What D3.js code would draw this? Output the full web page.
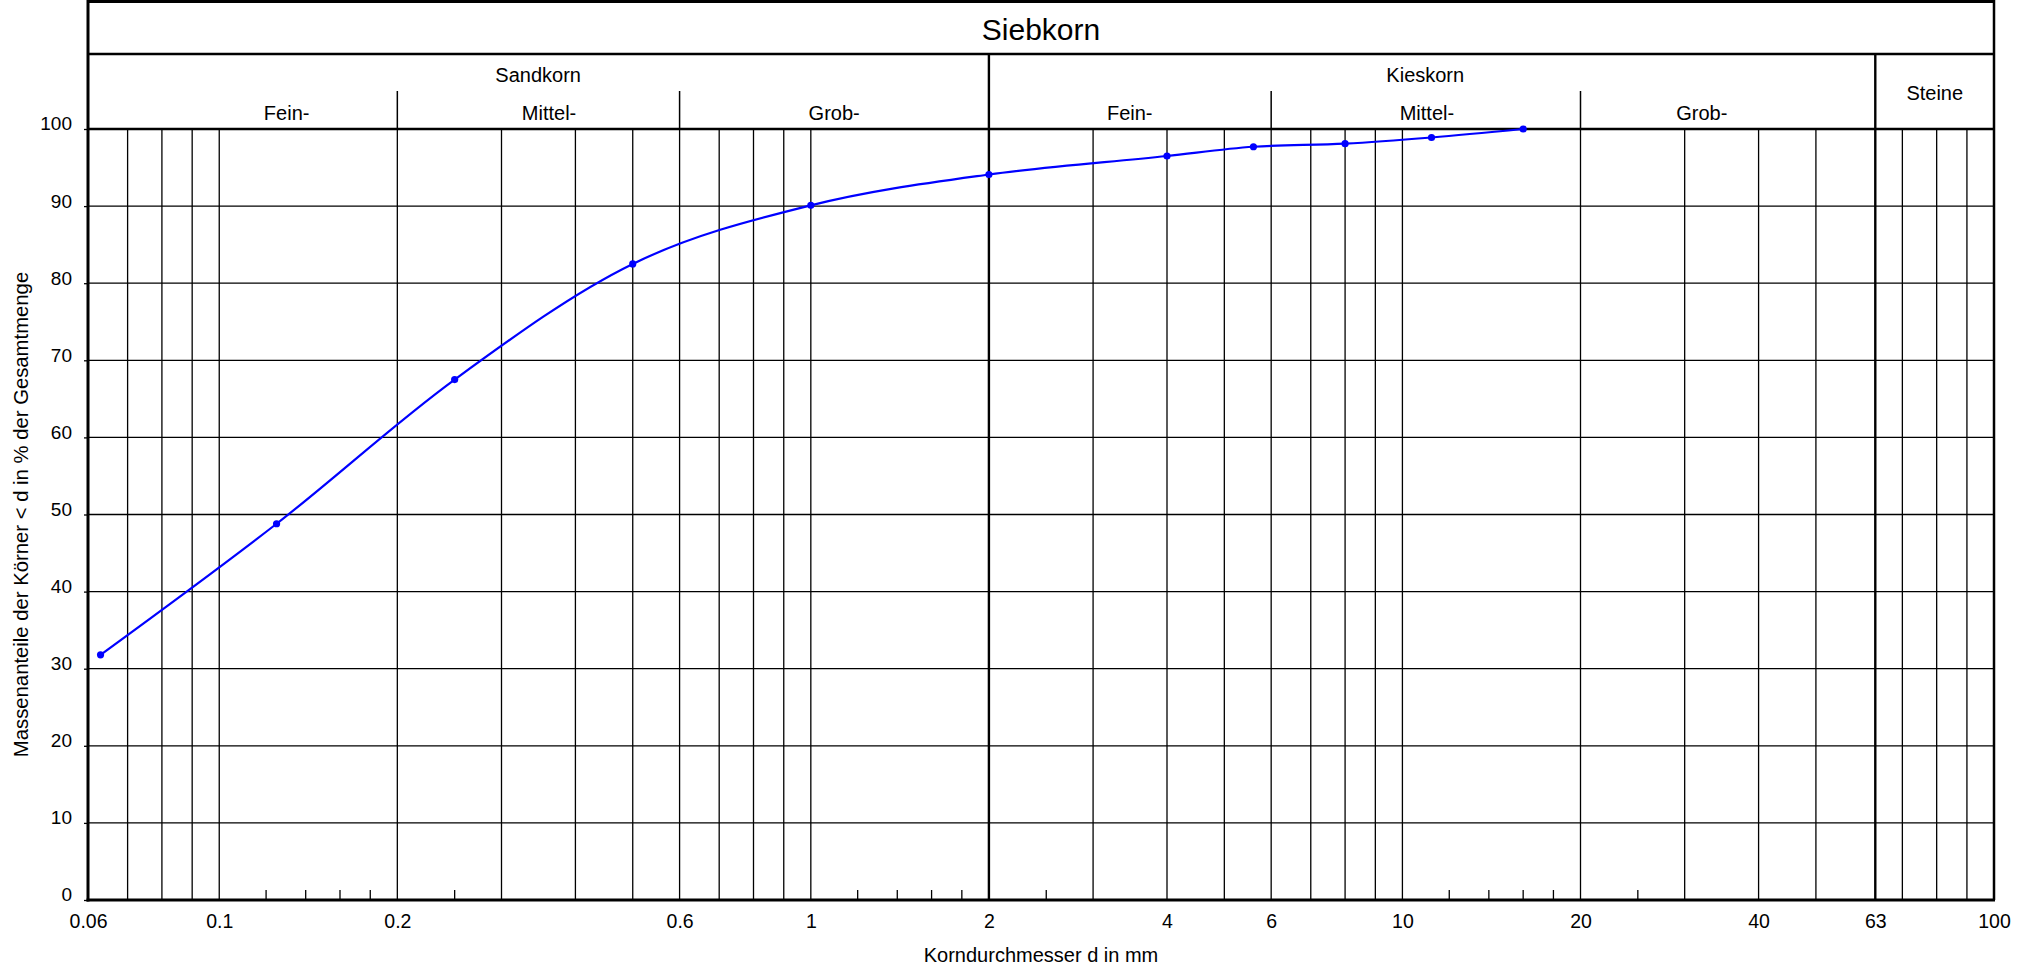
<!DOCTYPE html>
<html>
<head>
<meta charset="utf-8">
<script src="https://cdn.jsdelivr.net/npm/d3@7"></script>
<style>
  html, body { margin: 0; padding: 0; background: #fff; }
  svg { display: block; }
  text { font-family: "Liberation Sans", Arial, sans-serif; fill: #000; }
</style>
</head>
<body>
<svg id="chart" width="2022" height="970"></svg>
<script>
// ---------------- data ----------------
const sieveSizes = [0.063, 0.125, 0.25, 0.5, 1, 2, 4, 5.6, 8, 11.2, 16];
const passingPct = [31.8, 48.8, 67.5, 82.5, 90.1, 94.1, 96.5, 97.7, 98.1, 98.9, 100];

const xTickLabels = [0.06, 0.1, 0.2, 0.6, 1, 2, 4, 6, 10, 20, 40, 63, 100];
const yTicks = [0, 10, 20, 30, 40, 50, 60, 70, 80, 90, 100];

const gridLinesX = [0.07, 0.08, 0.09, 0.1, 0.2, 0.3, 0.4, 0.5, 0.6, 0.7, 0.8, 0.9,
                    1, 2, 3, 4, 5, 6, 7, 8, 9, 10, 20, 30, 40, 50, 63, 70, 80, 90];
const minorTicksX = [0.12, 0.14, 0.16, 0.18, 0.25, 1.2, 1.4, 1.6, 1.8, 2.5,
                     12, 14, 16, 18, 25];

// class boundaries (mm)
const mainBoundaries = [2, 63];
const subBoundaries = [0.2, 0.6, 6, 20];

// class labels: name and anchor value (mm)
const mainClassNames = ["Sandkorn", "Kieskorn"];
const mainClassAt = [0.346, 10.93];
const stonesName = "Steine";
const stonesAt = 79.4;
const subClassNames = ["Fein-", "Mittel-", "Grob-", "Fein-", "Mittel-", "Grob-"];
const subClassAt = [0.130, 0.361, 1.095, 3.46, 11.0, 32.06];

const chartTitle = "Siebkorn";
const xTitle = "Korndurchmesser d in mm";
const yTitle = "Massenanteile der Körner < d in % der Gesamtmenge";

// ---------------- layout ----------------
const L = 88, R = 1994, T = 129, B = 900;
const topY = 1.5, titleBoxY = 54, subTopY = 91;

const svg = d3.select("#chart");
const x = d3.scaleLog().domain([0.06, 100]).range([L, R]);
const y = d3.scaleLinear().domain([0, 100]).range([B, T]);

// horizontal grid
svg.append("g").selectAll("line").data(yTicks.filter(v => v > 0 && v < 100)).join("line")
  .attr("x1", L).attr("x2", R).attr("y1", d => y(d)).attr("y2", d => y(d))
  .attr("stroke", "#000").attr("stroke-width", 1.3);

// vertical grid
svg.append("g").selectAll("line").data(gridLinesX).join("line")
  .attr("x1", d => x(d)).attr("x2", d => x(d)).attr("y1", T).attr("y2", B)
  .attr("stroke", "#000")
  .attr("stroke-width", d => (mainBoundaries.includes(d) ? 2.4 : 1.3));

// sub-class boundaries extend into the header
svg.append("g").selectAll("line").data(subBoundaries).join("line")
  .attr("x1", d => x(d)).attr("x2", d => x(d)).attr("y1", subTopY).attr("y2", T)
  .attr("stroke", "#000").attr("stroke-width", 1.5);

// main class boundaries extend to the title box
svg.append("g").selectAll("line").data(mainBoundaries).join("line")
  .attr("x1", d => x(d)).attr("x2", d => x(d)).attr("y1", titleBoxY).attr("y2", T)
  .attr("stroke", "#000").attr("stroke-width", 2.4);

// minor ticks at the bottom
svg.append("g").selectAll("line").data(minorTicksX).join("line")
  .attr("x1", d => x(d)).attr("x2", d => x(d)).attr("y1", B - 10).attr("y2", B)
  .attr("stroke", "#000").attr("stroke-width", 1.3);

// frame lines
const frame = svg.append("g").attr("stroke", "#000").attr("fill", "none");
frame.append("line").attr("x1", L).attr("x2", R).attr("y1", topY).attr("y2", topY).attr("stroke-width", 3);
frame.append("line").attr("x1", L).attr("x2", R).attr("y1", titleBoxY).attr("y2", titleBoxY).attr("stroke-width", 2.5);
frame.append("line").attr("x1", L).attr("x2", R).attr("y1", T).attr("y2", T).attr("stroke-width", 2.5);
frame.append("line").attr("x1", R).attr("x2", R).attr("y1", 0).attr("y2", B).attr("stroke-width", 2.5);

// y axis
const yAxis = svg.append("g").attr("transform", `translate(${L},0)`)
  .call(d3.axisLeft(y).tickValues(yTicks).tickSize(4).tickFormat(d => String(d)));
yAxis.select(".domain").remove();
yAxis.selectAll(".tick line").attr("stroke", "#000").attr("stroke-width", 1.3);
yAxis.selectAll(".tick text").attr("x", -16).attr("dy", "0.05em")
  .style("font-size", "19px").style("font-family", "Liberation Sans, Arial, sans-serif");

// x axis
const xAxis = svg.append("g").attr("transform", `translate(0,${B})`)
  .call(d3.axisBottom(x).tickValues(xTickLabels).tickSize(0).tickFormat(d => String(d)));
xAxis.select(".domain").remove();
xAxis.selectAll(".tick text").attr("y", 28).attr("dy", "0")
  .style("font-size", "19.5px").style("font-family", "Liberation Sans, Arial, sans-serif");

// heavy left border and bottom axis
frame.append("line").attr("x1", L).attr("x2", L).attr("y1", 0).attr("y2", B + 1.5).attr("stroke-width", 3);
frame.append("line").attr("x1", L - 1.5).attr("x2", R + 1).attr("y1", B).attr("y2", B).attr("stroke-width", 3.2);

// header texts
svg.append("text").attr("x", (L + R) / 2).attr("y", 39.5).attr("text-anchor", "middle")
  .style("font-size", "30px").text(chartTitle);

svg.append("g").selectAll("text").data(mainClassNames).join("text")
  .attr("x", (d, i) => x(mainClassAt[i])).attr("y", 81.5).attr("text-anchor", "middle")
  .style("font-size", "20px").text(d => d);

svg.append("text").attr("x", x(stonesAt)).attr("y", 100).attr("text-anchor", "middle")
  .style("font-size", "20px").text(stonesName);

svg.append("g").selectAll("text").data(subClassNames).join("text")
  .attr("x", (d, i) => x(subClassAt[i])).attr("y", 120).attr("text-anchor", "middle")
  .style("font-size", "20px").text(d => d);

// axis titles
svg.append("text").attr("x", (L + R) / 2).attr("y", 962).attr("text-anchor", "middle")
  .style("font-size", "20px").text(xTitle);
svg.append("text").attr("transform", `translate(28,${(T + B) / 2}) rotate(-90)`)
  .attr("text-anchor", "middle").style("font-size", "20.3px").text(yTitle);

// grading curve
const pts = sieveSizes.map((d, i) => [d, passingPct[i]]);
const line = d3.line().x(d => x(d[0])).y(d => y(d[1])).curve(d3.curveMonotoneX);
svg.append("path").datum(pts).attr("d", line)
  .attr("fill", "none").attr("stroke", "#0000ff").attr("stroke-width", 2.2);
svg.append("g").selectAll("circle").data(pts).join("circle")
  .attr("cx", d => x(d[0])).attr("cy", d => y(d[1])).attr("r", 3.6)
  .attr("fill", "#0000ff");
</script>
</body>
</html>
